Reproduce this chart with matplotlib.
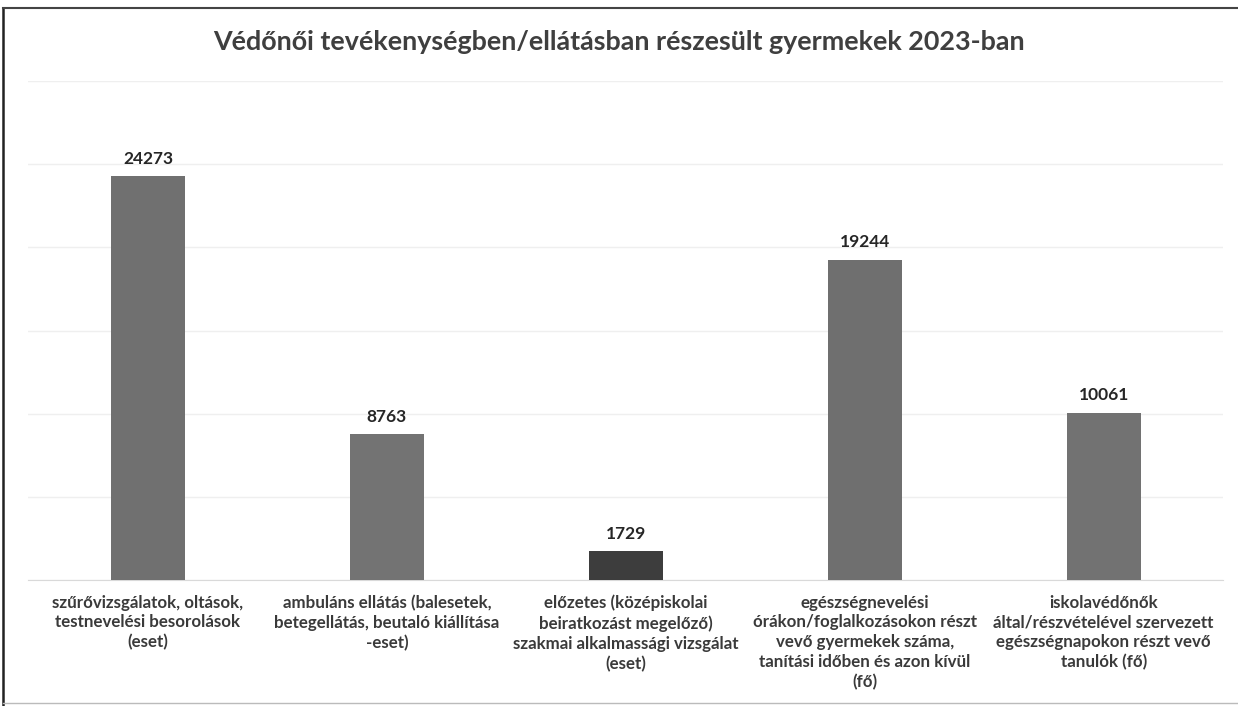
import matplotlib
matplotlib.use("Agg")
import matplotlib.pyplot as plt
from matplotlib.lines import Line2D

categories = [
    "szűrővizsgálatok, oltások,\ntestnevelési besorolások\n(eset)",
    "ambuláns ellátás (balesetek,\nbetegellátás, beutaló kiállítása\n-eset)",
    "előzetes (középiskolai\nbeiratkozást megelőző)\nszakmai alkalmassági vizsgálat\n(eset)",
    "egészségnevelési\nórákon/foglalkozásokon részt\nvevő gyermekek száma,\ntanítási időben és azon kívül\n(fő)",
    "iskolavédőnők\náltal/részvételével szervezett\negészségnapokon részt vevő\ntanulók (fő)",
]
values = [24273, 8763, 1729, 19244, 10061]
bar_colors = ["#707070", "#737373", "#3d3d3d", "#6f6f6f", "#727272"]
title = "Védőnői tevékenységben/ellátásban részesült gyermekek 2023-ban"

plt.rcParams['font.family'] = ['Lato', 'DejaVu Sans']

fig = plt.figure(figsize=(12.38, 7.06), dpi=100)
fig.patch.set_facecolor("white")
ax = fig.add_axes([0.023, 0.1785, 0.965, 0.7065])

x = range(len(values))
bars = ax.bar(x, values, width=0.31, color=bar_colors, zorder=3)
ax.set_xlim(-0.5, len(values) - 0.5)
ax.set_ylim(0, 30000)
ax.set_yticks(range(0, 30001, 5000))
ax.yaxis.grid(True, color="#efefef", linewidth=1.0, zorder=0)
ax.tick_params(axis="y", left=False, labelleft=False)
ax.tick_params(axis="x", bottom=False)
ax.set_xticks(list(x))
ax.set_xticklabels(categories, fontsize=12.2, fontweight="bold", color="#3a3a3a", linespacing=1.3)
for lbl in ax.get_xticklabels():
    lbl.set_verticalalignment("top")
ax.tick_params(axis="x", pad=7)
for s in ["top", "right", "left"]:
    ax.spines[s].set_visible(False)
ax.spines["bottom"].set_color("#d9d9d9")

for b, v in zip(bars, values):
    ax.annotate(str(v), (b.get_x() + b.get_width() / 2, v), xytext=(0, 7),
                textcoords="offset points", ha="center", va="bottom",
                fontsize=12.5, fontweight="bold", color="#262626")

fig.text(0.5, 0.94, title, ha="center", va="center", fontsize=19.4,
         fontweight="bold", color="#3f3f3f")

# frame around chart
fig.add_artist(Line2D([0.0025, 0.0025], [0.0, 0.988], transform=fig.transFigure, color="#222222", linewidth=1.8))
fig.add_artist(Line2D([0.0025, 1.0], [0.988, 0.988], transform=fig.transFigure, color="#444444", linewidth=1.5))
fig.add_artist(Line2D([0.0025, 1.0], [0.004, 0.004], transform=fig.transFigure, color="#bbbbbb", linewidth=1.0))

fig.savefig("out.png", dpi=100, facecolor="white")
